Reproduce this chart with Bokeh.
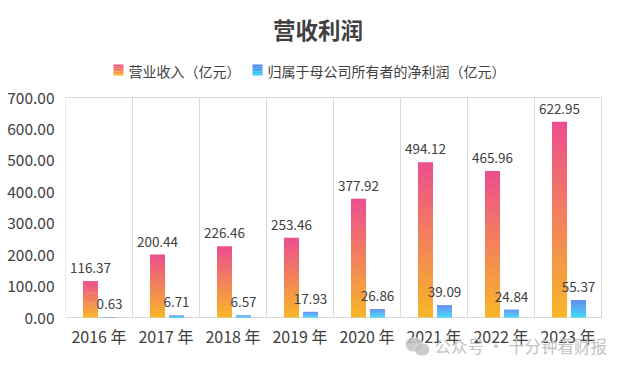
from bokeh.plotting import figure
from bokeh.models import (ColumnDataSource, Range1d, FixedTicker, Label,
                          BoxAnnotation, NumeralTickFormatter)
from bokeh.embed import file_html
from bokeh.resources import INLINE
from bokeh.core.properties import value

# ---------------- data ----------------
years = ["2016 年", "2017 年", "2018 年", "2019 年", "2020 年", "2021 年", "2022 年", "2023 年"]
revenue = [116.37, 200.44, 226.46, 253.46, 377.92, 494.12, 465.96, 622.95]
net_profit = [0.63, 6.71, 6.57, 17.93, 26.86, 39.09, 24.84, 55.37]
y_ticks = [0, 100, 200, 300, 400, 500, 600, 700]
title_text = "营收利润"
legend_labels = ["营业收入（亿元）", "归属于母公司所有者的净利润（亿元）"]
watermark_text = "公众号 · 十分钟看财报"

# ---------------- style / layout ----------------
FONT = "Noto Sans CJK SC"
TXT = "#404040"
GRID = "#d9d9d9"
WM = "#c2c2c2"
REV_TOP, REV_BOT = (236, 78, 142), (248, 182, 40)
NET_TOP, NET_BOT = (82, 128, 240), (48, 214, 246)

W, H = 619, 356
FL, FR = 65, 601          # category area left / right (px)
PT, PB = 97, 317          # pixel rows of the top value and of zero
NCAT = len(years)
YMAX = y_ticks[-1]
PW = FR - FL
UPP = YMAX / (PB - PT)    # value units per pixel (y)
CPP = NCAT / PW           # category units per pixel (x)

def mix(c1, c2, t):
    r = [int(round(a + (b - a) * t)) for a, b in zip(c1, c2)]
    return "#%02x%02x%02x" % tuple(r)

p = figure(width=W, height=H, x_range=Range1d(0, (W - FL) * CPP),
           y_range=Range1d(-(H - PB) * UPP, YMAX + PT * UPP),
           output_backend="svg", toolbar_location=None,
           min_border_left=FL, min_border_right=0, min_border_top=0, min_border_bottom=0)
p.background_fill_color = "white"
p.border_fill_color = "white"
p.outline_line_color = None

BAR_W = 15 * CPP
OFF_REV = -8.5 * CPP
OFF_NET = 10.5 * CPP
NSEG = 40

# category separators, top border line and base line
bounds = list(range(NCAT + 1))
p.segment(x0=bounds, y0=[0] * len(bounds), x1=bounds, y1=[YMAX] * len(bounds),
          line_color=GRID, line_width=1)
p.segment(x0=[0, 0], y0=[YMAX, 0], x1=[NCAT, NCAT], y1=[YMAX, 0],
          line_color=GRID, line_width=1)

def gradient_bars(vals, off, ctop, cbot):
    xs, bots, tops, cols = [], [], [], []
    for i, v in enumerate(vals):
        for k in range(NSEG):
            xs.append(i + 0.5 + off)
            bots.append(v * k / NSEG)
            tops.append(v * min(k + 1.6, NSEG) / NSEG)
            cols.append(mix(cbot, ctop, (k + 0.5) / NSEG))
    src = ColumnDataSource(dict(x=xs, bottom=bots, top=tops, c=cols))
    p.vbar(x="x", bottom="bottom", top="top", width=BAR_W, fill_color="c",
           line_color=None, source=src)

gradient_bars(revenue, OFF_REV, REV_TOP, REV_BOT)
gradient_bars(net_profit, OFF_NET, NET_TOP, NET_BOT)

# value labels
lab_src = ColumnDataSource(dict(
    x=[i + 0.5 + OFF_REV for i in range(NCAT)] + [i + 0.5 + OFF_NET for i in range(NCAT)],
    y=revenue + net_profit,
    t=["%.2f" % v for v in revenue] + ["%.2f" % v for v in net_profit]))
p.text(x="x", y="y", text="t", source=lab_src, text_font=value(FONT),
       text_font_size="13.5px", text_color=TXT, text_align="center",
       text_baseline="alphabetic", y_offset=-13)

# axes
p.xaxis.fixed_location = 0
p.xaxis.ticker = FixedTicker(ticks=[i + 0.5 for i in range(NCAT)])
p.xaxis.major_label_overrides = {i + 0.5: y for i, y in enumerate(years)}
p.yaxis.ticker = FixedTicker(ticks=y_ticks)
p.yaxis.formatter = NumeralTickFormatter(format="0.00")
for ax in (p.xaxis, p.yaxis):
    ax.major_tick_line_color = None
    ax.minor_tick_line_color = None
    ax.major_tick_out = 0
    ax.major_tick_in = 0
    ax.major_label_text_font = FONT
    ax.major_label_text_color = TXT
    ax.axis_line_color = None
p.xaxis.major_label_text_font_size = "16px"
p.yaxis.major_label_text_font_size = "15.5px"
p.xaxis.major_label_standoff = 6
p.yaxis.major_label_standoff = 11
p.xgrid.visible = False
p.ygrid.visible = False

# screen helpers: offsets from plotting-area left and from canvas bottom
def sx(px):
    return px - FL

def sy(py):
    return H - py

# title
p.add_layout(Label(x=sx(317.5), y=sy(28), x_units="screen", y_units="screen",
                   text=title_text, text_font=FONT,
                   text_font_size="22.5px", text_font_style="bold", text_color=TXT,
                   text_align="center", text_baseline="middle"))

# legend (gradient swatches + labels)
for (bx, tx, ctop, cbot, lab) in [(113, 128, REV_TOP, REV_BOT, legend_labels[0]),
                                  (252, 267, NET_TOP, NET_BOT, legend_labels[1])]:
    n = 6
    for k in range(n):
        y_lo = 75 - 11 * k / n
        y_hi = 75 - 11 * (k + 1) / n
        p.add_layout(BoxAnnotation(left=sx(bx), right=sx(bx + 10),
                                   bottom=sy(y_lo), top=sy(y_hi),
                                   left_units="screen", right_units="screen",
                                   top_units="screen", bottom_units="screen",
                                   fill_color=mix(cbot, ctop, (k + 0.5) / n), fill_alpha=1,
                                   line_color=None))
    p.add_layout(Label(x=sx(tx), y=sy(70), x_units="screen", y_units="screen",
                       text=lab, text_font=FONT,
                       text_font_size="14px", text_color=TXT,
                       text_align="left", text_baseline="middle"))

# watermark (speech-bubble icon + text)
for (l, r, t, b) in [(405, 422, 337, 351), (414, 429, 343, 355)]:
    p.add_layout(BoxAnnotation(left=sx(l), right=sx(r), top=sy(t), bottom=sy(b),
                               left_units="screen", right_units="screen",
                               top_units="screen", bottom_units="screen",
                               fill_color=WM, fill_alpha=0.85, line_color="white",
                               line_width=1, border_radius=7))
p.add_layout(Label(x=sx(434), y=sy(345), x_units="screen", y_units="screen",
                   text=watermark_text, text_font=FONT,
                   text_font_size="16.5px", text_color=WM,
                   text_align="left", text_baseline="middle"))

open("out.html", "w").write(file_html(p, INLINE))
